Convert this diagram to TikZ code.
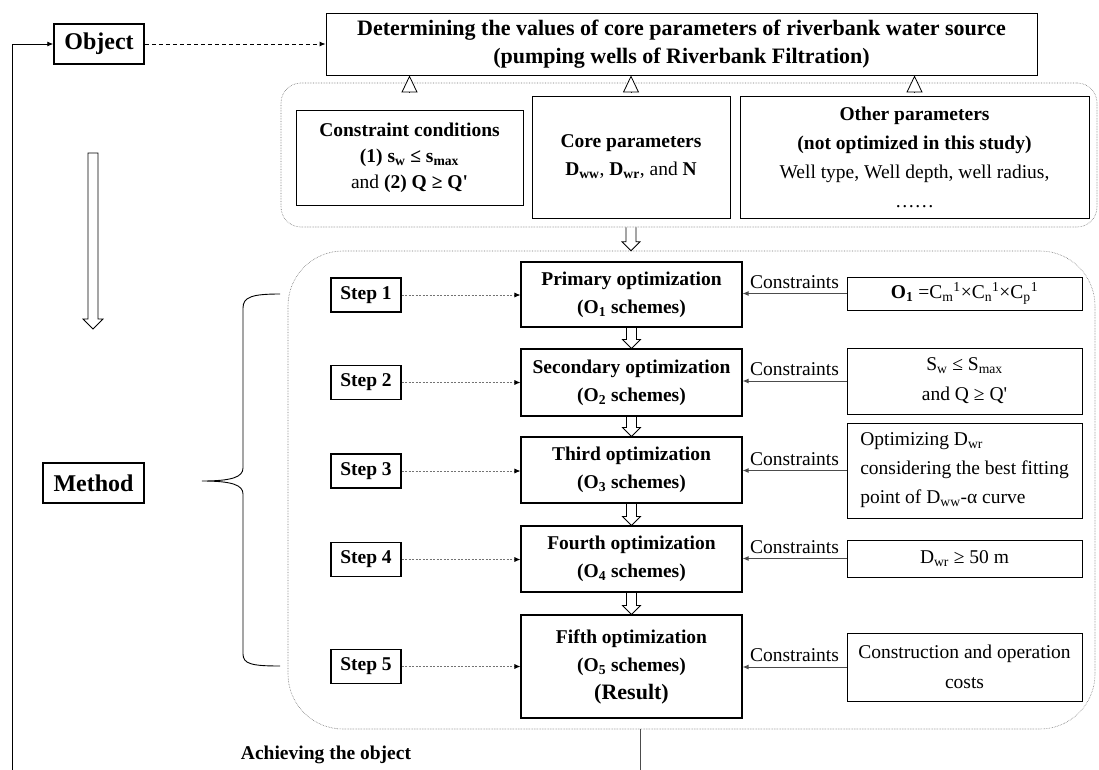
\documentclass[tikz,border=0pt]{standalone}
\usepackage{fontspec}
\setmainfont{Liberation Serif}[Ligatures=TeXOff]
\usetikzlibrary{arrows.meta,calc}

\begin{document}
\begin{tikzpicture}[x=1pt, y=-1pt, >={Latex[length=6pt,width=5pt]},
    every node/.style={font=\fontsize{19.5}{27}\selectfont},
    box/.style={draw, line width=0.9pt, align=center, inner sep=0pt},
    bigbox/.style={box, line width=1.5pt, font=\bfseries\fontsize{24}{28}\selectfont},
    optbox/.style={box, line width=1.1pt, minimum width=221pt, font=\bfseries\fontsize{19.5}{28}\selectfont},
    stepbox/.style={box, line width=1.4pt, minimum width=70pt, minimum height=34pt, font=\bfseries\fontsize{19.5}{24}\selectfont},
    rbox/.style={box, minimum width=235pt},
    grp/.style={draw=black!55, densely dotted, line width=0.6pt},
    tri/.style={line width=0.8pt, -{Triangle[length=17pt,width=16pt,fill=white]}},
    hollow/.style={line width=0.8pt, to path={($(\tikztostart)+(-5,0)$) -- ($(\tikztotarget)+(-5,-9)$) -- ++(-4,0) -- (\tikztotarget) -- ++(9,-9) -- ++(-4,0) -- ($(\tikztostart)+(5,0)$)}},
    steparr/.style={draw=black!55, dash pattern=on 2pt off 1.5pt, line width=0.8pt, -{Latex[length=6pt,width=5pt,color=black]}},
    carr/.style={draw=black!70, line width=1pt, ->}
  ]
  \useasboundingbox (0,0) rectangle (1099,770);

  % groups
  \node[grp, rounded corners=20pt, minimum width=816pt, minimum height=144pt] (topgrp) at (689,155) {};
  \node[grp, rounded corners=55pt, minimum width=807pt, minimum height=478pt] (lowgrp) at (691.5,490) {};

  % object
  \node[bigbox, minimum width=90pt, minimum height=40pt] (obj) at (99,44) {Object};
  \node[box, minimum width=711pt, minimum height=62pt, font=\bfseries\fontsize{22}{28}\selectfont] (det) at (681.5,44)
    {Determining the values of core parameters of riverbank water source\\(pumping wells of Riverbank Filtration)};

  \node[box, minimum width=227pt, minimum height=95pt, font=\fontsize{19.5}{26}\selectfont] (cons) at (409.5,157.5)
    {\textbf{Constraint conditions}\\\textbf{(1) s\textsubscript{w} ≤ s\textsubscript{max}}\\and \textbf{(2) Q ≥ Q'}};
  \node[box, minimum width=198pt, minimum height=122pt, font=\fontsize{19.5}{28}\selectfont] (core) at (631,157)
    {\textbf{Core parameters}\\\textbf{D\textsubscript{ww}}, \textbf{D\textsubscript{wr}}, and \textbf{N}};
  \node[box, minimum width=349pt, minimum height=122pt, font=\fontsize{19.5}{29}\selectfont] (other) at (914.5,157)
    {\textbf{Other parameters}\\\textbf{(not optimized in this study)}\\Well type, Well depth, well radius,\\……};

  \draw[dashed, dash pattern=on 4pt off 3pt, line width=0.9pt, ->] (obj.east) -- (det.west);
  \foreach \n in {cons, core, other}
    \draw[tri] ($(\n.north |- det.south)+(0,17)$) -- (\n.north |- det.south);
  \draw[hollow] (topgrp.south -| core.south) to (lowgrp.north -| core.south);

  % method
  \draw[line width=0.8pt] (88,153) -- (88,319) -- (83,319) -- (93,329) -- (103,319) -- (98,319) -- (98,153) -- cycle;
  \node[bigbox, minimum width=101pt, minimum height=40pt] (meth) at (93.5,483) {Method};
  \draw[line width=0.9pt] (280,294) .. controls (252,294) and (243,297) .. (243,308) -- (243,468)
    .. controls (243,477) and (232,481) .. (202,481) .. controls (232,481) and (243,485) .. (243,494)
    -- (243,654) .. controls (243,664) and (252,666) .. (280,666);

  \node[stepbox] (st1) at (366,295) {Step 1};
  \node[stepbox] (st2) at (366,382.5) {Step 2};
  \node[stepbox] (st3) at (366,471) {Step 3};
  \node[stepbox] (st4) at (366,559.5) {Step 4};
  \node[stepbox] (st5) at (366,666.5) {Step 5};

  \node[optbox, minimum height=65pt] (pri) at (631.5,294.5) {Primary optimization\\(O\textsubscript{1} schemes)};
  \node[optbox, minimum height=67pt] (sec) at (631.5,382.5) {Secondary optimization\\(O\textsubscript{2} schemes)};
  \node[optbox, minimum height=66pt] (thi) at (631.5,470) {Third optimization\\(O\textsubscript{3} schemes)};
  \node[optbox, minimum height=66pt] (fou) at (631.5,559) {Fourth optimization\\(O\textsubscript{4} schemes)};
  \node[optbox, minimum height=103pt] (fif) at (631.5,666.5) {Fifth optimization\\(O\textsubscript{5} schemes)\\{\fontsize{22}{28}\selectfont (Result)}};

  \node[rbox, minimum height=33pt] (r1) at (964.5,293.5)
    {\textbf{O\textsubscript{1}} =C\textsubscript{m}\textsuperscript{1}×C\textsubscript{n}\textsuperscript{1}×C\textsubscript{p}\textsuperscript{1}};
  \node[rbox, minimum height=66pt, font=\fontsize{19.5}{30}\selectfont] (r2) at (964.5,381) {S\textsubscript{w} ≤ S\textsubscript{max}\\and Q ≥ Q'};
  \node[rbox, minimum height=95pt, align=left, font=\fontsize{19.5}{29}\selectfont] (r3) at (964.5,470.5)
    {Optimizing D\textsubscript{wr}\\considering the best fitting\\point of D\textsubscript{ww}-α curve};
  \node[rbox, minimum height=37pt] (r4) at (964.5,558.5) {D\textsubscript{wr} ≥ 50 m};
  \node[rbox, minimum height=68pt, font=\fontsize{19.5}{30}\selectfont] (r5) at (964.5,667) {Construction and operation\\costs};

  \foreach \s/\o in {st1/pri, st2/sec, st3/thi, st4/fou, st5/fif}
    \draw[steparr] (\s.east) -- (\s.east -| \o.west);
  \foreach \r/\o in {r1/pri, r2/sec, r3/thi, r4/fou, r5/fif}
    \draw[carr] (\r.west) -- (\r.west -| \o.east) node[midway, above=1pt] {Constraints};
  \foreach \a/\b in {pri/sec, sec/thi, thi/fou, fou/fif}
    \draw[hollow] (\a.south) to (\b.north);

  % result
  \coordinate (lbot) at (12,770);
  \coordinate (rbot) at (640,770);
  \draw[line width=0.9pt, ->] (lbot) |- (obj.west);
  \draw[line width=1pt, black!70] (lowgrp.south -| rbot) -- (rbot);
  \node[font=\bfseries\fontsize{19.5}{24}\selectfont] (ach) at (326,755) {Achieving the object};
\end{tikzpicture}
\end{document}
